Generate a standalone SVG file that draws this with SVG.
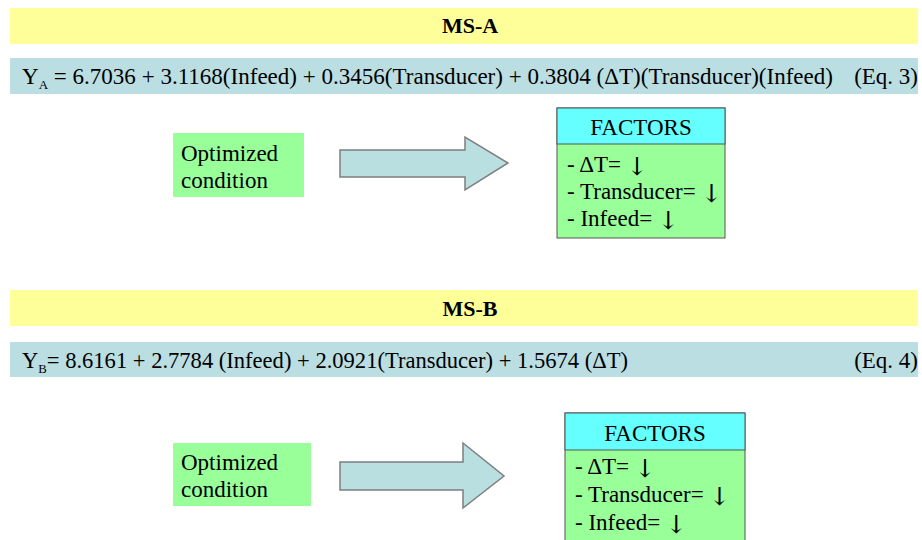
<svg xmlns="http://www.w3.org/2000/svg" width="922" height="540" viewBox="0 0 922 540">
<style>
.t{font-family:"Liberation Serif","Times New Roman",serif;fill:#000;font-size:23px}
.b{font-weight:bold;font-size:22px}
.ar{font-family:"DejaVu Serif","Liberation Serif",serif;font-size:25px}
.yel{fill:#FFFF99}
.band{fill:#BADEE1}
.grn{fill:#99FF99}
.box{fill:#99FF99;stroke:#555;stroke-width:1}
.hdr{fill:#66FFFF;stroke:#555;stroke-width:1}
.arr{fill:#B9DFE1;stroke:#7F7F7F;stroke-width:1.5}
</style>
<rect width="922" height="540" fill="#fff"/>
<g id="sectionA">
<g id="titleA"><rect class="yel" x="10" y="8" width="908" height="36"/><text class="t b" x="470" y="33" text-anchor="middle">MS-A</text></g>
<g id="eqA"><rect class="band" x="10" y="58" width="908" height="36"/>
<text class="t" x="22" y="84" textLength="811" lengthAdjust="spacingAndGlyphs">Y<tspan font-size="13" dy="5">A</tspan><tspan dy="-5"> = 6.7036 + 3.1168(Infeed) + 0.3456(Transducer) + 0.3804 (ΔT)(Transducer)(Infeed)</tspan></text>
<text class="t" x="918" y="84" text-anchor="end">(Eq. 3)</text></g>
<g id="optA"><rect class="grn" x="173" y="133" width="131" height="64"/><text class="t" x="181" y="161">Optimized</text><text class="t" x="181" y="188">condition</text></g>
<g id="factorsA"><rect class="box" x="557" y="108" width="168" height="130"/><rect class="hdr" x="557" y="108" width="168" height="36"/>
<text class="t" x="641" y="135" text-anchor="middle">FACTORS</text>
<text class="t" x="567" y="172">- ΔT= <tspan class="ar" dy="3">↓</tspan></text><text class="t" x="567" y="199">- Transducer= <tspan class="ar" dy="3">↓</tspan></text><text class="t" x="567" y="226">- Infeed= <tspan class="ar" dy="3">↓</tspan></text></g>
</g>
<g id="sectionB">
<g id="titleB"><rect class="yel" x="10" y="290" width="908" height="36"/><text class="t b" x="470" y="316" text-anchor="middle">MS-B</text></g>
<g id="eqB"><rect class="band" x="10" y="342" width="908" height="35"/>
<text class="t" x="22" y="368" textLength="606" lengthAdjust="spacingAndGlyphs">Y<tspan font-size="13" dy="5">B</tspan><tspan dy="-5">= 8.6161 + 2.7784 (Infeed) + 2.0921(Transducer) + 1.5674 (ΔT)</tspan></text>
<text class="t" x="918" y="368" text-anchor="end">(Eq. 4)</text></g>
<g id="optB"><rect class="grn" x="173" y="443" width="138" height="63"/><text class="t" x="181" y="470">Optimized</text><text class="t" x="181" y="497">condition</text></g>
<g id="factorsB"><rect class="box" x="565" y="413" width="180" height="140"/><rect class="hdr" x="565" y="413" width="180" height="37"/>
<text class="t" x="655" y="441" text-anchor="middle">FACTORS</text>
<text class="t" x="575" y="474">- ΔT= <tspan class="ar" dy="3">↓</tspan></text><text class="t" x="575" y="502">- Transducer= <tspan class="ar" dy="3">↓</tspan></text><text class="t" x="575" y="530">- Infeed= <tspan class="ar" dy="3">↓</tspan></text></g>
</g>
<g id="connectors">
<path class="arr" d="M340 150 L465 150 L465 137 L508 163 L465 190 L465 177 L340 177 Z"/>
<path class="arr" d="M340 462 L463 462 L463 443 L504 476 L463 508 L463 490 L340 490 Z"/>
</g>
</svg>
